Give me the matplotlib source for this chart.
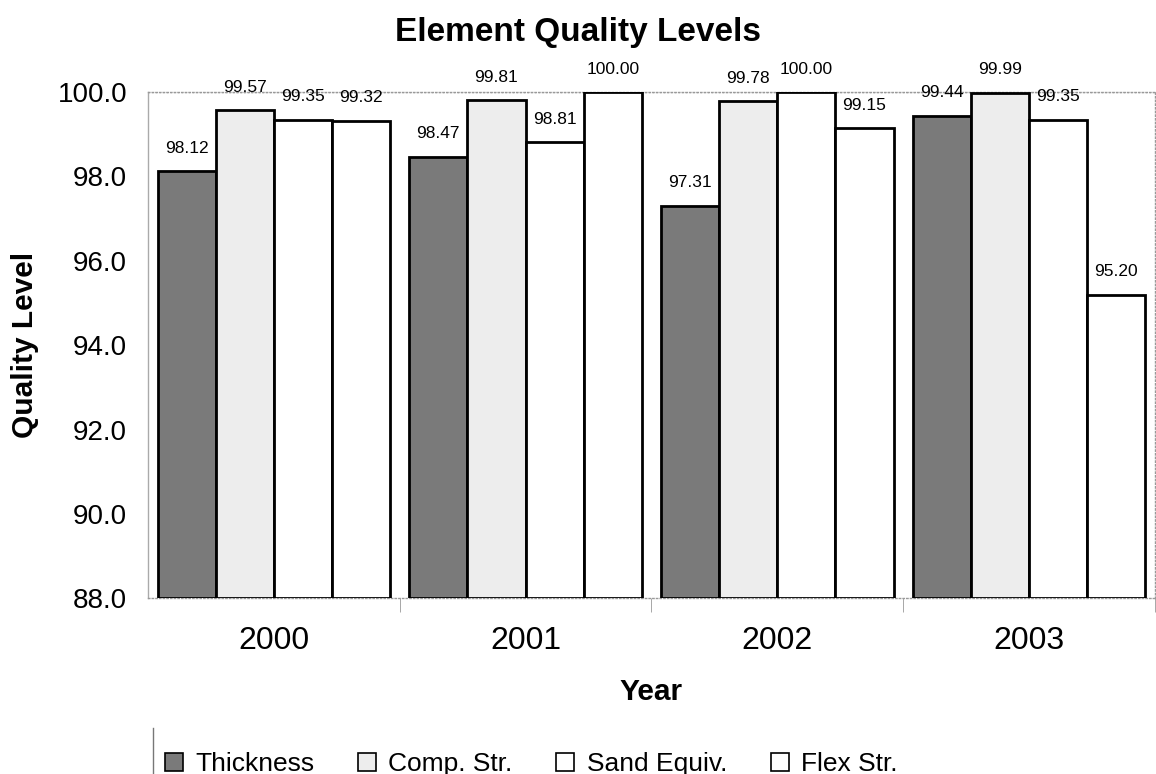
import matplotlib.pyplot as plt
import numpy as np
from matplotlib.lines import Line2D

plt.rcParams['font.family'] = ['Liberation Sans', 'DejaVu Sans']

years = ["2000", "2001", "2002", "2003"]
series = ["Thickness", "Comp. Str.", "Sand Equiv.", "Flex Str."]
thickness = [98.12, 98.47, 97.31, 99.44]
comp_str = [99.57, 99.81, 99.78, 99.99]
sand_equiv = [99.35, 98.81, 100.00, 99.35]
flex_str = [99.32, 100.00, 99.15, 95.20]

values = [thickness, comp_str, sand_equiv, flex_str]
colors = ["#7a7a7a", "#ededed", "white", "white"]

fig = plt.figure(figsize=(11.56, 7.74), dpi=100)
ax = fig.add_axes([0.128, 0.227, 0.871, 0.654])

x = np.arange(len(years))
w = 0.231
offsets = [-1.5, -0.5, 0.5, 1.5]
for vals, off, c, name in zip(values, offsets, colors, series):
    ax.bar(x + off * w, np.array(vals) - 88, bottom=88, width=w,
           color=c, edgecolor="black", linewidth=2, label=name, zorder=3)
    # value labels above each bar
    for xi, v in zip(x + off * w, vals):
        ax.annotate(f"{v:.2f}", (xi, v), xytext=(0, 16.5), textcoords="offset points",
                    ha="center", va="center", fontsize=12.5)

ax.set_ylim(88, 100)
ax.set_xlim(-0.5, 3.5)
yt = np.arange(88, 100.1, 2)
ax.set_yticks(yt)
ax.set_yticklabels([f"{t:.1f}" for t in yt], fontsize=20)
ax.set_xticks(x)
ax.set_xticklabels(years, fontsize=23)
ax.tick_params(axis="x", length=0, pad=20)
ax.tick_params(axis="y", length=0, pad=15)
ax.set_xticks([0.5, 1.5, 2.5, 3.5], minor=True)
ax.tick_params(axis="x", which="minor", length=10, color="#999999", direction="out")
ax.axhline(100, color="#888888", linestyle=":", linewidth=1, zorder=1)
for s in ax.spines.values():
    s.set_color("#999999")
    s.set_linestyle(":")
    s.set_linewidth(1)
ax.spines["left"].set_linestyle("-")
ax.spines["left"].set_color("#aaaaaa")

fig.suptitle("Element Quality Levels", fontsize=24, fontweight="bold", y=0.978)
ax.set_ylabel("Quality Level", fontsize=21.5, fontweight="bold", labelpad=13)
ax.set_xlabel("Year", fontsize=21.5, fontweight="bold", labelpad=16)

handles = [Line2D([], [], marker="s", linestyle="none", markersize=13.5,
                  markerfacecolor=c, markeredgecolor="black", markeredgewidth=1.2)
           for c in colors]
fig.legend(handles, series, loc="lower left", bbox_to_anchor=(0.12, -0.033),
           ncol=4, frameon=False, fontsize=19, handletextpad=0.35,
           columnspacing=1.55, handlelength=0.9)
fig.add_artist(Line2D([0.1325, 0.1325], [0.0, 0.06], color="#777777", linewidth=1))

fig.savefig("out.png", dpi=100)
